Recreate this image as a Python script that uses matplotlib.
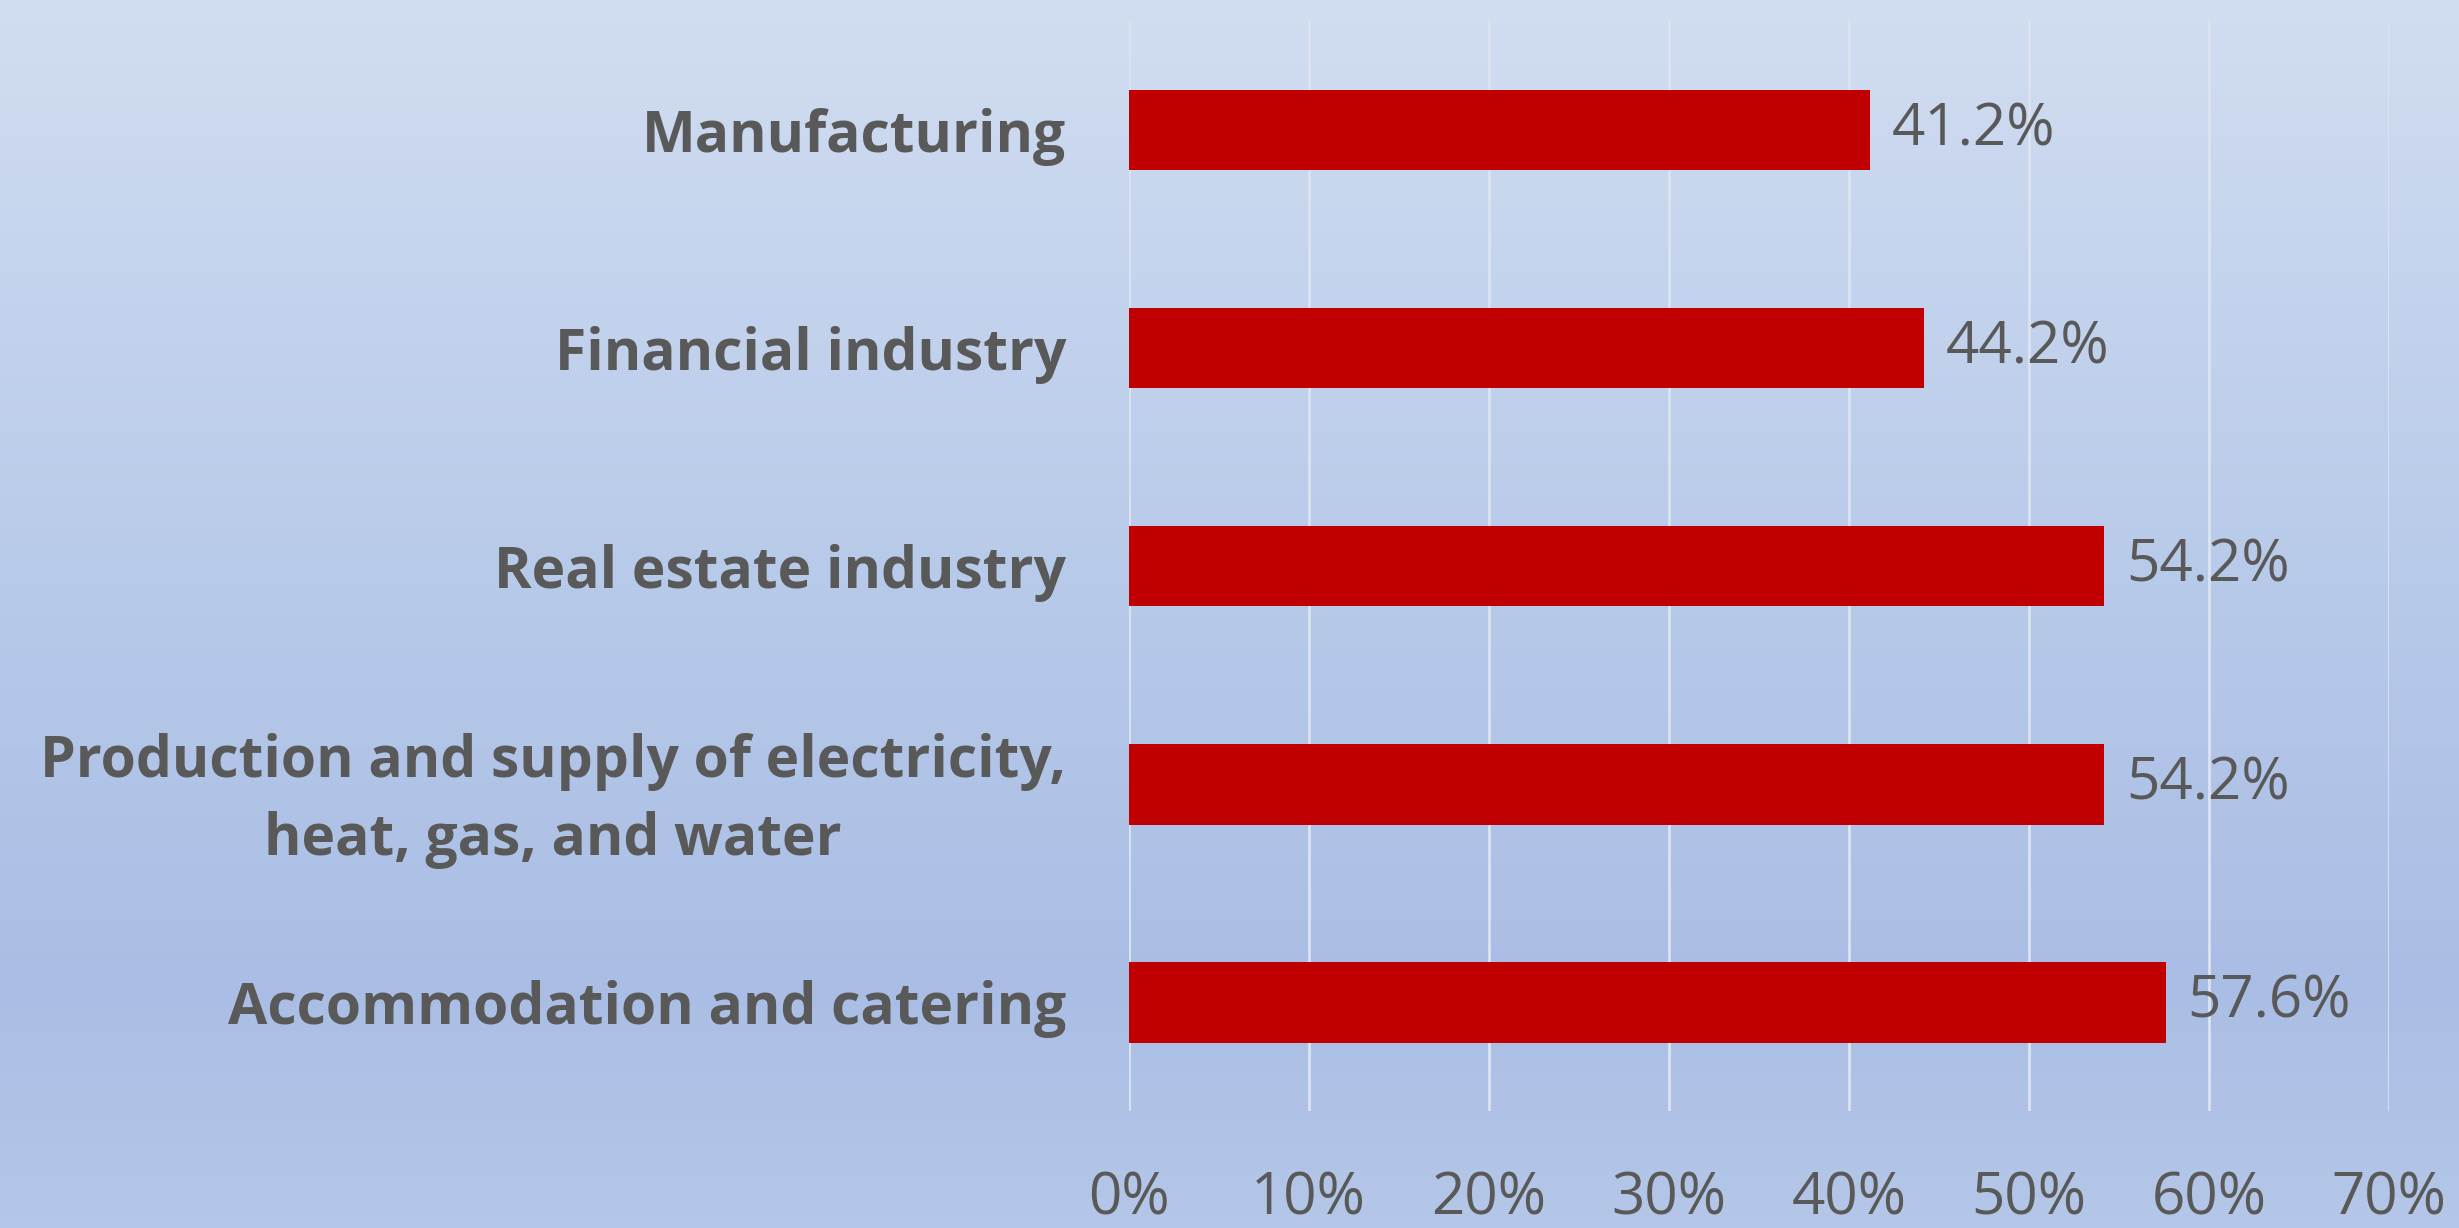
import matplotlib
matplotlib.use('Agg')
import matplotlib.pyplot as plt
import numpy as np
from matplotlib.colors import LinearSegmentedColormap, to_rgb

# data (top to bottom as drawn)
categories = ['Manufacturing', 'Financial industry', 'Real estate industry',
              'Production and supply of electricity,\nheat, gas, and water',
              'Accommodation and catering']
values = [41.2, 44.2, 54.2, 54.2, 57.6]
xticks = [0, 10, 20, 30, 40, 50, 60, 70]

text_color = '#595959'
bar_color = '#C00000'
font = 'Open Sans'

fig = plt.figure(figsize=(24.59, 12.28), dpi=100)

# background gradient
bg = fig.add_axes([0, 0, 1, 1], zorder=-1)
stops = [(0.0, '#B4C7E8'), (0.2, '#AABEE5'), (0.5, '#B6C9E9'), (1.0, '#D1DDF1')]
cmap = LinearSegmentedColormap.from_list('bg', [(p, to_rgb(c)) for p, c in stops])
grad = np.linspace(0, 1, 256).reshape(-1, 1)
bg.imshow(grad, aspect='auto', cmap=cmap, origin='lower', extent=[0, 1, 0, 1])
bg.axis('off')

ax = fig.add_axes([0.459, 0.095, 0.5125, 0.888])
ax.patch.set_alpha(0)
y = np.arange(len(categories))
ax.barh(y, values, height=0.37, color=bar_color, zorder=3)
ax.set_ylim(len(categories) - 0.5, -0.5)
ax.set_xlim(0, 70)

for yi, v in zip(y, values):
    ax.text(v + 1.2, yi, f'{v:.1f}%', va='center', ha='left',
            fontsize=42, color=text_color, family=font)

ax.set_yticks(y)
ax.set_yticklabels(categories, fontsize=41, fontweight='bold', color=text_color,
                   family=font, linespacing=1.45, multialignment='center')
ax.set_xticks(xticks)
ax.set_xticklabels([f'{t}%' for t in xticks], fontsize=42, color=text_color, family=font)
ax.tick_params(axis='y', length=0, pad=45)
ax.tick_params(axis='x', length=0, pad=42)
ax.grid(axis='x', color='#DCE3F0', linewidth=2, zorder=0)
for s in ax.spines.values():
    s.set_visible(False)

fig.savefig('out.png', dpi=100)
